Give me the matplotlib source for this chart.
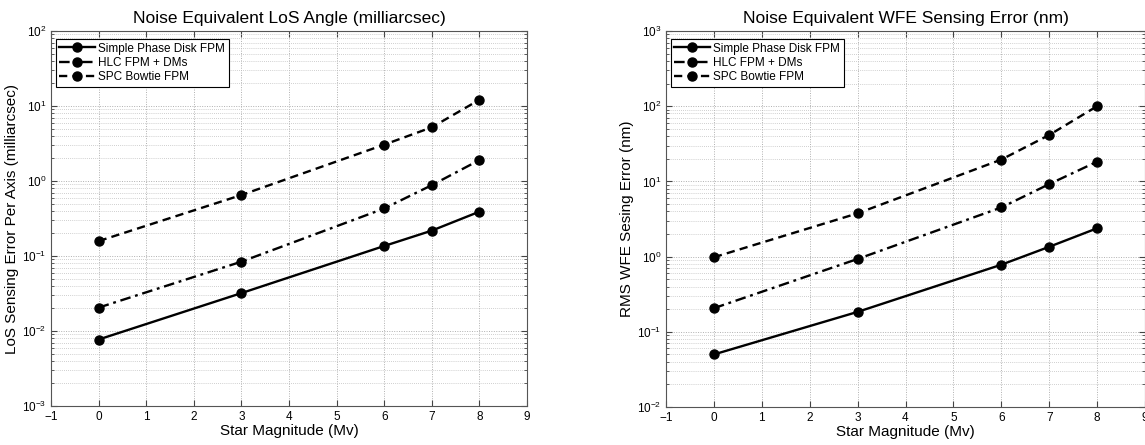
import numpy as np
import matplotlib
matplotlib.use("Agg")
import matplotlib.pyplot as plt
from matplotlib.ticker import LogLocator, NullFormatter, MultipleLocator

plt.rcParams.update({"font.family": ["Liberation Sans", "DejaVu Sans"],
                     "mathtext.fontset": "custom", "mathtext.rm": "Liberation Sans",
                     "axes.edgecolor": "#555555", "axes.linewidth": 0.8,
                     "xtick.direction": "in", "ytick.direction": "in",
                     "xtick.top": True, "ytick.right": True,
                     "xtick.color": "#444444", "ytick.color": "#444444",
                     "xtick.labelcolor": "black", "ytick.labelcolor": "black"})

mag = [0, 3, 6, 7, 8]
labels = ["Simple Phase Disk FPM", "HLC FPM + DMs", "SPC Bowtie FPM"]
dash_patterns = [None, (4.5, 2.0, 1.2, 2.0), (3.5, 2.2)]

# line-of-sight error per axis (milliarcsec)
los_simple = [0.0077, 0.032, 0.136, 0.218, 0.39]
los_hlc = [0.0205, 0.084, 0.43, 0.88, 1.9]
los_spc = [0.158, 0.65, 3.05, 5.2, 12.1]

# RMS wavefront error (nm)
wfe_simple = [0.050, 0.184, 0.78, 1.35, 2.38]
wfe_hlc = [0.206, 0.93, 4.5, 9.2, 18.3]
wfe_spc = [0.98, 3.76, 19.5, 41.4, 100.0]


def panel(ax, series, ylim, title, ylabel):
    for ys, dp, lab in zip(series, dash_patterns, labels):
        ln, = ax.plot(mag, ys, color="black", lw=1.7, marker="o", ms=6.5, label=lab)
        if dp is not None:
            ln.set_dashes(dp)
    ax.set_yscale("log")
    ax.set_xlim(-1, 9); ax.set_ylim(*ylim)
    ax.xaxis.set_major_locator(MultipleLocator(1))
    ax.yaxis.set_major_locator(LogLocator(base=10, numticks=20))
    ax.yaxis.set_minor_locator(LogLocator(base=10, subs=np.arange(2, 10), numticks=20))
    ax.yaxis.set_minor_formatter(NullFormatter())
    ax.tick_params(which="major", length=4, labelsize=8.5)
    ax.tick_params(which="minor", length=2)
    ax.grid(True, which="major", color="#b0b0b0", ls=(0, (1, 1.5)), lw=0.7)
    ax.grid(True, which="minor", color="#c0c0c0", ls=(0, (1, 1.5)), lw=0.6)
    ax.set_axisbelow(True)
    ax.set_title(title, fontsize=12.5, pad=6)
    ax.set_xlabel("Star Magnitude (Mv)", fontsize=11, labelpad=1)
    ax.set_ylabel(ylabel, fontsize=11, labelpad=2)
    leg = ax.legend(loc="upper left", fontsize=8.5, frameon=True, fancybox=False,
                    edgecolor="black", framealpha=1, handlelength=3.0,
                    borderpad=0.3, labelspacing=0.2, handletextpad=0.3,
                    borderaxespad=0.2, bbox_to_anchor=(0.005, 0.985))
    leg.get_frame().set_linewidth(0.8)


fig = plt.figure(figsize=(11.45, 4.45), dpi=100)
ax1 = fig.add_axes([51 / 1145, 39 / 445, 476 / 1145, 375 / 445])
ax2 = fig.add_axes([666 / 1145, 38 / 445, 479 / 1145, 376 / 445])

panel(ax1, [los_simple, los_hlc, los_spc], (1e-3, 1e2),
      "Noise Equivalent LoS Angle (milliarcsec)", "LoS Sensing Error Per Axis (milliarcsec)")
panel(ax2, [wfe_simple, wfe_hlc, wfe_spc], (1e-2, 1e3),
      "Noise Equivalent WFE Sensing Error (nm)", "RMS WFE Sesing Error (nm)")

fig.savefig("out.png", dpi=100, facecolor="white")
